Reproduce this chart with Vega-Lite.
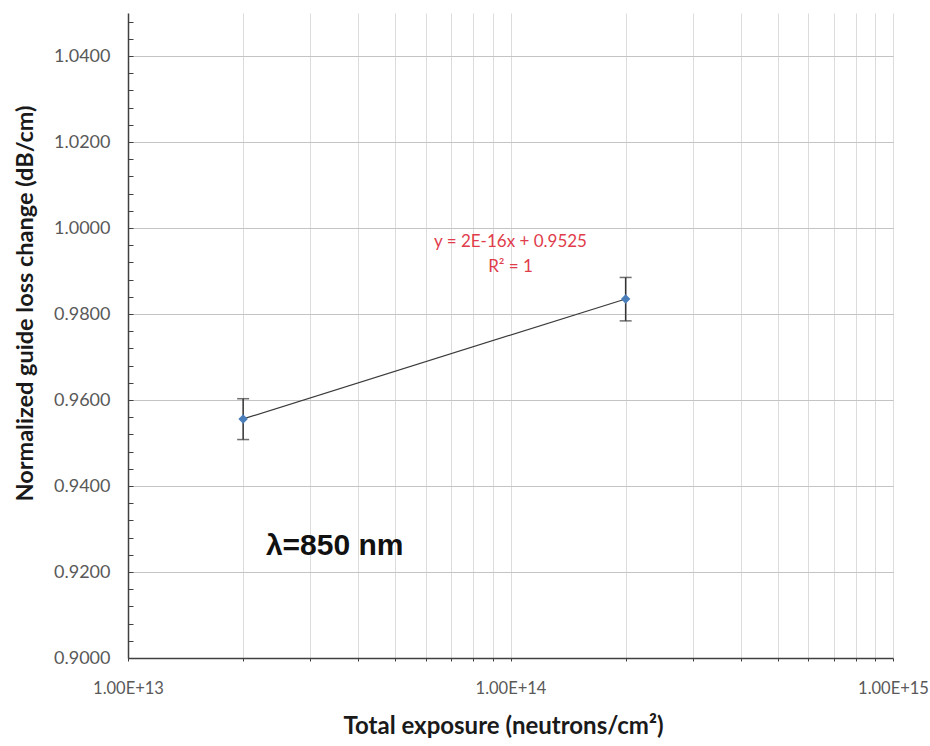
{
  "$schema": "https://vega.github.io/schema/vega-lite/v6.json",
  "autosize": "none",
  "width": 765,
  "height": 645,
  "padding": {"left": 128, "top": 13, "right": 37, "bottom": 88},
  "background": "white",
  "config": {"view": {"stroke": null}, "font": "Lato"},
  "datasets": {
    "points": [
      {"exposure": 2e13, "loss": 0.9556, "lo": 0.9508, "hi": 0.9603},
      {"exposure": 2e14, "loss": 0.9835, "lo": 0.9784, "hi": 0.9885}
    ],
    "fit": [
      {"exposure": 1e14, "loss": 0.9967, "label": "y = 2E-16x + 0.9525"},
      {"exposure": 1e14, "loss": 0.9909, "label": "R² = 1"}
    ],
    "note": [
      {"exposure": 3.47e13, "loss": 0.926, "label": "λ=850 nm"}
    ]
  },
  "encoding": {
    "x": {
      "field": "exposure",
      "type": "quantitative",
      "scale": {"type": "log", "domain": [1e13, 1e15], "nice": false},
      "axis": {
        "title": "Total exposure (neutrons/cm²)",
        "values": [1e13, 2e13, 3e13, 4e13, 5e13, 6e13, 7e13, 8e13, 9e13, 1e14, 2e14, 3e14, 4e14, 5e14, 6e14, 7e14, 8e14, 9e14, 1e15],
        "labelExpr": "abs(log(datum.value)/log(10) - round(log(datum.value)/log(10))) < 1e-6 ? upper(format(datum.value, '.2e')) : ''",
        "labelFont": "Lato",
        "labelFontSize": 16.5,
        "labelColor": "#595959",
        "labelPadding": 19,
        "labelFlush": false,
        "labelOverlap": false,
        "tickSize": 3,
        "tickColor": "#404040",
        "domainColor": "#404040",
        "domainWidth": 1.5,
        "grid": true,
        "gridColor": "#dcdcdc",
        "gridWidth": 1,
        "titleFont": "Lato",
        "titleFontSize": 24,
        "titleFontWeight": "bold",
        "titleColor": "#1a1a1a",
        "titleX": 375,
        "titleY": 68,
        "titleBaseline": "middle",
        "titleAnchor": "middle"
      }
    },
    "y": {
      "field": "loss",
      "type": "quantitative",
      "scale": {"domain": [0.9, 1.05], "nice": false, "zero": false},
      "axis": {
        "title": "Normalized guide loss change (dB/cm)",
        "values": [0.9, 0.904, 0.908, 0.912, 0.916, 0.92, 0.924, 0.928, 0.932, 0.936, 0.94, 0.944, 0.948, 0.952, 0.956, 0.96, 0.964, 0.968, 0.972, 0.976, 0.98, 0.984, 0.988, 0.992, 0.996, 1.0, 1.004, 1.008, 1.012, 1.016, 1.02, 1.024, 1.028, 1.032, 1.036, 1.04, 1.044, 1.048],
        "labelExpr": "abs(datum.value*50 - round(datum.value*50)) < 1e-6 ? format(datum.value, '.4f') : ''",
        "labelFont": "Lato",
        "labelFontSize": 18,
        "labelColor": "#595959",
        "labelPadding": 23,
        "labelOverlap": false,
        "labelFlush": false,
        "tickSize": -5,
        "tickColor": "#404040",
        "domainColor": "#404040",
        "domainWidth": 1.5,
        "grid": true,
        "gridColor": "#c4c4c4",
        "gridOpacity": {"condition": {"test": "abs(datum.value*50 - round(datum.value*50)) < 1e-6", "value": 1}, "value": 0},
        "titleFont": "Lato",
        "titleFontSize": 23.5,
        "titleFontWeight": "bold",
        "titleColor": "#1a1a1a",
        "titleAngle": -90,
        "titleX": -103,
        "titleY": 290,
        "titleBaseline": "middle",
        "titleAlign": "center"
      }
    }
  },
  "layer": [
    {
      "data": {"name": "points"},
      "mark": {"type": "line", "color": "#3a3a3a", "strokeWidth": 1.2}
    },
    {
      "data": {"name": "points"},
      "mark": {"type": "rule", "color": "#333333", "strokeWidth": 1.5},
      "encoding": {
        "y": {"field": "lo", "type": "quantitative"},
        "y2": {"field": "hi"}
      }
    },
    {
      "data": {"name": "points"},
      "mark": {"type": "tick", "orient": "horizontal", "color": "#333333", "size": 12, "thickness": 1.5},
      "encoding": {"y": {"field": "lo", "type": "quantitative"}}
    },
    {
      "data": {"name": "points"},
      "mark": {"type": "tick", "orient": "horizontal", "color": "#333333", "size": 12, "thickness": 1.5},
      "encoding": {"y": {"field": "hi", "type": "quantitative"}}
    },
    {
      "data": {"name": "points"},
      "mark": {"type": "point", "shape": "diamond", "filled": true, "color": "#4a7ebb", "size": 90, "opacity": 1}
    },
    {
      "data": {"name": "fit"},
      "mark": {"type": "text", "color": "#e03c4b", "fontSize": 17, "font": "Lato", "align": "center", "baseline": "middle"},
      "encoding": {"text": {"field": "label"}}
    },
    {
      "data": {"name": "note"},
      "mark": {"type": "text", "color": "#111111", "fontSize": 30, "fontWeight": "bold", "font": "Liberation Sans", "align": "center", "baseline": "middle"},
      "encoding": {"text": {"field": "label"}}
    }
  ]
}
